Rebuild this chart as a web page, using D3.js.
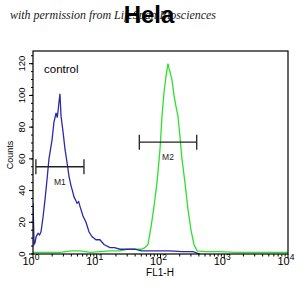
<!DOCTYPE html>
<html><head><meta charset="utf-8">
<script src="https://cdn.jsdelivr.net/npm/d3@7"></script>
<style>html,body{margin:0;padding:0;background:#fff;}svg{display:block;}</style>
</head><body>
<script>
// Control (blue) histogram: FL1-H intensity and counts
const controlX = [1.0, 1.02, 1.04, 1.075, 1.12, 1.2, 1.27, 1.335, 1.435, 1.54, 1.66, 1.78, 1.99, 2.13, 2.3, 2.4, 2.47, 2.56, 2.65, 2.75, 2.96, 3.18, 3.41, 3.67, 3.95, 4.15, 4.4, 4.65, 4.9, 5.2, 5.46, 6.08, 6.78, 7.55, 8.41, 9.73, 11.2, 13.0, 16.1, 19.0, 23.2, 30, 39.8, 50, 68.4, 100, 141, 220, 324, 417];
const controlY = [32, 20, 6, 7, 11, 13, 12, 14, 23, 34, 47, 60, 72, 83, 89, 86, 90, 96, 101, 87, 77, 66, 58, 49, 43, 40, 36, 34, 32, 33, 30, 24, 20, 14, 11, 9, 9, 6, 4, 4, 3, 3, 3, 2, 2, 2, 2, 1.5, 1.5, 0];
// Stained sample (green) histogram
const sampleX = [1.0, 1.5, 2.65, 4, 5.46, 8, 11.2, 16, 23.2, 30, 39.8, 50, 57, 63.7, 71.0, 79.1, 88.1, 98.2, 105.6, 113.5, 122, 131, 136, 141, 151, 163, 175, 188, 202, 217, 242, 270, 301, 335, 374, 500, 857, 1500, 2535, 5000, 10000];
const sampleY = [1, 1, 1, 2, 2, 1, 1.5, 2, 2, 3, 3, 3, 4, 6, 17, 30, 45, 66, 87, 102, 112, 120, 117, 115, 110, 100, 93, 87, 74, 60, 45, 28, 15, 6, 2, 1.5, 1.5, 1, 1, 1, 1];
// Markers
const markerNames = ["M1", "M2"];
const markerStart = [1.11, 46.5];
const markerEnd = [6.3, 370];
const markerLevel = [55, 70.5];
// Axis ticks
const yTicks = [0, 20, 40, 60, 80, 100, 120];
const xDecades = [1, 10, 100, 1000, 10000];
const xExponents = ["0", "1", "2", "3", "4"];

const W = 305, H = 296;
const L = 33, R = 288, T = 51, B = 254;
const svg = d3.select("body").append("svg").attr("width", W).attr("height", H);

const x = d3.scaleLog().domain([1, 10000]).range([L, R]);
const y = d3.scaleLinear().domain([0, 128]).range([B, T]);

// watermark text
svg.append("text").attr("x", 10).attr("y", 19)
  .attr("font-family", "Liberation Serif, serif").attr("font-style", "italic")
  .attr("font-size", 12).attr("fill", "#222")
  .attr("textLength", 206).attr("lengthAdjust", "spacingAndGlyphs")
  .text("with permission from LifeSpan Biosciences");

// title
svg.append("text").attr("x", 149).attr("y", 23).attr("text-anchor", "middle")
  .attr("font-family", "Liberation Sans, Arial, sans-serif").attr("font-weight", "bold")
  .attr("font-size", 24).attr("fill", "#000").text("Hela");

// y axis ticks
const g = svg.append("g").attr("font-family", "Liberation Sans, Arial, sans-serif");
const yMinor = d3.range(0, 129, 5);
g.selectAll(".ym").data(yMinor).enter().append("line")
  .attr("x1", L).attr("x2", L - 2).attr("y1", d => y(d)).attr("y2", d => y(d))
  .attr("stroke", "#000").attr("stroke-width", 1);
g.selectAll(".yM").data(yTicks).enter().append("line")
  .attr("x1", L).attr("x2", L - 4).attr("y1", d => y(d)).attr("y2", d => y(d))
  .attr("stroke", "#000").attr("stroke-width", 1);
g.selectAll(".yl").data(yTicks).enter().append("text")
  .attr("transform", d => `translate(25,${y(d)}) rotate(-90)`)
  .attr("text-anchor", "middle").attr("font-size", 9.5).attr("fill", "#000")
  .text(d => d);
g.append("text").attr("transform", `translate(13,155) rotate(-90)`)
  .attr("text-anchor", "middle").attr("font-size", 9).attr("fill", "#000").text("Counts");

// x axis ticks
const xMinor = [];
for (let dcd = 0; dcd < 4; dcd++) for (let k = 2; k <= 9; k++) xMinor.push(k * Math.pow(10, dcd));
g.selectAll(".xm").data(xMinor).enter().append("line")
  .attr("x1", d => x(d)).attr("x2", d => x(d)).attr("y1", B).attr("y2", B + 2.5)
  .attr("stroke", "#000").attr("stroke-width", 1);
g.selectAll(".xM").data(xDecades).enter().append("line")
  .attr("x1", d => x(d)).attr("x2", d => x(d)).attr("y1", B).attr("y2", B + 4.5)
  .attr("stroke", "#000").attr("stroke-width", 1);
const xl = g.selectAll(".xl").data(xDecades).enter().append("text")
  .attr("x", d => x(d) - 2).attr("y", 265).attr("text-anchor", "middle")
  .attr("font-size", 11).attr("fill", "#000");
xl.append("tspan").text("10");
xl.append("tspan").attr("dy", -5).attr("font-size", 8.5).text((d, i) => xExponents[i]);
g.append("text").attr("x", 160).attr("y", 276).attr("text-anchor", "middle")
  .attr("font-size", 10).attr("fill", "#000").text("FL1-H");

// histograms
const clip = svg.append("clipPath").attr("id", "c").append("rect")
  .attr("x", L).attr("y", T).attr("width", R - L).attr("height", B - T);
const line = d3.line().x(d => x(d[0])).y(d => y(d[1]));
svg.append("path").datum(sampleX.map((v, i) => [v, sampleY[i]]))
  .attr("d", line).attr("fill", "none").attr("stroke", "#2ee02e").attr("stroke-width", 1.3)
  .attr("clip-path", "url(#c)");
svg.append("path").datum(controlX.map((v, i) => [v, controlY[i]]))
  .attr("d", line).attr("fill", "none").attr("stroke", "#2a2aa8").attr("stroke-width", 1.3)
  .attr("clip-path", "url(#c)");

// markers
markerNames.forEach((m, i) => {
  const x1 = x(markerStart[i]), x2 = x(markerEnd[i]), yy = y(markerLevel[i]);
  const mg = svg.append("g").attr("stroke", "#222").attr("stroke-width", 1.3);
  mg.append("line").attr("x1", x1).attr("x2", x2).attr("y1", yy).attr("y2", yy);
  mg.append("line").attr("x1", x1).attr("x2", x1).attr("y1", yy - 7.5).attr("y2", yy + 7.5);
  mg.append("line").attr("x1", x2).attr("x2", x2).attr("y1", yy - 7.5).attr("y2", yy + 7.5);
  svg.append("text").attr("x", (x1 + x2) / 2).attr("y", yy + 18).attr("text-anchor", "middle")
    .attr("font-family", "Liberation Sans, Arial, sans-serif").attr("font-size", 8.5)
    .attr("fill", "#222").text(m);
});

// control label
svg.append("text").attr("x", 44).attr("y", 73)
  .attr("font-family", "Liberation Sans, Arial, sans-serif").attr("font-size", 11.5)
  .attr("fill", "#000").text("control");

// frame
svg.append("rect").attr("x", L).attr("y", T).attr("width", R - L).attr("height", B - T)
  .attr("fill", "none").attr("stroke", "#000").attr("stroke-width", 1.2);
</script>
</body></html>
